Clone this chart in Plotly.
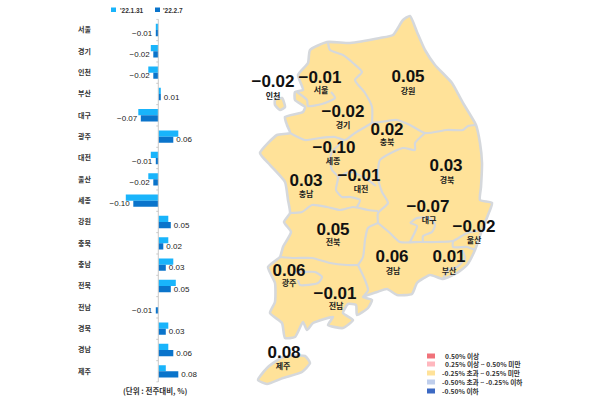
import plotly.graph_objects as go

regions = ["서울","경기","인천","부산","대구","광주","대전","울산","세종","강원","충북","충남","전북","전남","경북","경남","제주"]
jan31 = [-0.01,-0.03,-0.04,0.01,-0.08,0.08,-0.03,-0.04,-0.13,0.04,0.04,0.06,0.07,0.0,0.04,0.04,0.03]
feb7 = [-0.01,-0.02,-0.02,0.01,-0.07,0.06,-0.01,-0.02,-0.10,0.05,0.02,0.03,0.05,-0.01,0.03,0.06,0.08]
series_names = ["'22.1.31", "'22.2.7"]
series_colors = ["#19B4FB", "#0A74CB"]

map_regions = ["인천","서울","경기","강원","충북","세종","대전","충남","경북","대구","울산","전북","경남","부산","광주","전남","제주"]
map_values = [-0.02,-0.01,-0.02,0.05,0.02,-0.10,-0.01,0.03,0.03,-0.07,-0.02,0.05,0.06,0.01,0.06,-0.01,0.08]
value_x = [273,320,343,408,387,334,359,306,446,428,474,333,392,449,289,335,284]
value_y = [83,79,113,78,131,149,177,182,167,208,228,231,258,258,272,295,354]
name_x = [273,321,343,408,387,333,361,306,447,429,474,333,393,449,289,336,283]
name_y = [97,91,126,92,143,162,190,195,181,221,241,243,272,272,284,307,367]

mainland = [(410,16),(417,32),(425,50),(435,65),(452,83),(463,103),(476,125),(480,143),(482,163),(481,187),(480,200),(492,203),
 (488,215),(482,230),(475,250),(467,265),(457,273),(443,279),(430,275),(417,283),(412,294),(397,295),(387,289),(377,292),(363,297),
 (372,300),(368,308),(357,315),(356,305),(348,304),(343,313),(353,320),(343,328),(328,325),(333,317),(313,323),(307,330),(303,322),
 (295,337),(285,338),(282,323),(270,313),(275,302),(275,283),(268,267),(280,257),(283,247),(291,232),(284,222),(290,213),(288,200),
 (285,182),(270,165),(260,153),(277,135),(290,133),(287,125),(285,117),(303,112),(305,107),(295,100),(295,92),(303,90),(298,75),
 (308,63),(310,50),(327,42),(350,43),(380,38),(393,35),(403,20),(410,16)]
incheon_isle = [(275,100),(282,98),(285,107),(280,110),(275,105),(275,100)]
jeju = [(258,380),(268,367),(283,357),(305,356),(310,363),(302,372),(283,378),(267,384),(258,380)]
borders = [
 [(328,43),(330,50),(343,55),(353,63),(362,72),(355,80),(365,93),(372,107),(372,123)],
 [(290,133),(305,140),(320,138),(335,137),(345,140),(355,133),(372,123)],
 [(372,123),(387,121),(397,120),(410,125),(425,133),(447,130),(463,130),(468,126),(476,125)],
 [(425,133),(415,143),(415,150),(403,148),(380,160),(378,177),(382,192),(388,203),(378,213),(378,223)],
 [(297,92),(307,100),(308,106),(322,104),(335,98),(331,92)],
 [(343,141),(332,152),(330,160),(332,170),(338,177),(336,190),(342,197),(350,197),(360,200),(357,207)],
 [(338,177),(350,172),(365,178),(376,186)],
 [(290,213),(302,212),(312,205),(327,207),(340,210),(353,207),(368,210),(378,211)],
 [(280,257),(295,258),(312,258),(330,263),(347,265),(358,265)],
 [(358,265),(363,257),(365,240),(368,228),(378,223)],
 [(358,265),(365,280),(368,290),(363,297)],
 [(378,223),(390,233),(400,242),(420,242),(437,242),(453,241),(467,233),(483,230)],
 [(453,241),(453,247),(467,247),(475,250)],
 [(410,223),(417,218),(430,218),(435,225),(432,232),(423,236),(423,242)],
 [(410,223),(417,226),(415,232),(410,242)],
 [(462,250),(465,258),(457,267),(448,270),(443,279)],
 [(293,272),(303,272),(315,272),(322,277),(318,283),(300,285),(298,280)],
]

legend_swatches = ["#F0727A","#FFB7BE","#FFE299","#BFCEEC","#3C69C3"]
legend_labels = ["0.50% 이상","0.25% 이상 ~ 0.50% 미만","-0.25% 초과 ~ 0.25% 미만","-0.50% 초과 ~ -0.25% 이하","-0.50% 이하"]
legend_y = [356,364,373,382,391]
legend_text_x = [443,443,440,440,440]

W,H = 600,400
def fmt(v):
    return f"{v:.2f}".replace("-", "\u2212")

KFONT = "Noto Sans CJK KR"
fig = go.Figure()
LAND = "#FFE299"; EDGE = "#D5D8DC"

for poly in (mainland, incheon_isle, jeju):
    fig.add_trace(go.Scatter(x=[p[0] for p in poly], y=[p[1] for p in poly], mode="lines", fill="toself",
        fillcolor=LAND, line=dict(color=EDGE, width=2.6, shape="spline", smoothing=0.5),
        xaxis="x2", yaxis="y2", showlegend=False, hoverinfo="skip"))
for b in borders:
    fig.add_trace(go.Scatter(x=[p[0] for p in b], y=[p[1] for p in b], mode="lines",
        line=dict(color=EDGE, width=2.2, shape="spline", smoothing=0.6),
        xaxis="x2", yaxis="y2", showlegend=False, hoverinfo="skip"))

fig.add_trace(go.Scatter(x=value_x, y=value_y, mode="text", text=[fmt(v) for v in map_values],
    textfont=dict(family="Liberation Sans", size=17, color="#111111", weight="bold"), textposition="middle center",
    xaxis="x2", yaxis="y2", showlegend=False, hoverinfo="skip"))
fig.add_trace(go.Scatter(x=name_x, y=name_y, mode="text", text=map_regions,
    textfont=dict(family=KFONT, size=8, color="#222222", weight="bold"), textposition="middle center",
    xaxis="x2", yaxis="y2", showlegend=False, hoverinfo="skip"))

fig.add_trace(go.Bar(y=regions, x=jan31, name=series_names[0], orientation="h", marker=dict(color=series_colors[0], line_width=0)))
fig.add_trace(go.Bar(y=regions, x=feb7, name=series_names[1], orientation="h", marker=dict(color=series_colors[1], line_width=0),
    text=[fmt(v) for v in feb7], textposition="outside", cliponaxis=False, constraintext="none",
    textfont=dict(family="Liberation Sans", size=8, color="#222222")))

X0,X1 = 96,212
ZERO = 158.3; PX = 250
shapes = [dict(type="line", xref="x", yref="y", x0=0, x1=0, y0=-0.5, y1=16.5, line=dict(color="#C8C8C8", width=1), layer="above")]
for i in range(18):
    shapes.append(dict(type="line", xref="x", yref="y", x0=0, x1=-0.008, y0=i-0.5, y1=i-0.5, line=dict(color="#C8C8C8", width=1)))
annotations = []
for name,c,sx,tx in zip(series_names, series_colors, [111,155], [118,161]):
    shapes.append(dict(type="rect", xref="x2", yref="y2", x0=sx, x1=sx+5, y0=7.5, y1=12, fillcolor=c, line_width=0))
    annotations.append(dict(xref="x2", yref="y2", x=tx, y=10, text=name, showarrow=False, xanchor="left", yanchor="middle",
        font=dict(family="Liberation Sans", size=6.5, color="#333333", weight="bold")))
for c,t,y,tx in zip(legend_swatches, legend_labels, legend_y, legend_text_x):
    shapes.append(dict(type="rect", xref="x2", yref="y2", x0=427, x1=435, y0=y-2.5, y1=y+2.5, fillcolor=c, line_width=0))
    annotations.append(dict(xref="x2", yref="y2", x=tx, y=y, text=t, showarrow=False, xanchor="left", yanchor="middle",
        font=dict(family=KFONT, size=6.7, color="#333333", weight="bold")))
annotations.append(dict(xref="x2", yref="y2", x=155, y=390.5, text="(단위 : 전주대비, %)", showarrow=False,
    font=dict(family=KFONT, size=7.5, color="#333333", weight="bold")))

fig.update_layout(
    width=W, height=H, autosize=False, margin=dict(l=0,r=0,t=0,b=0), paper_bgcolor="white", plot_bgcolor="rgba(0,0,0,0)",
    barmode="group", bargap=0.42, bargroupgap=0, shapes=shapes, annotations=annotations,
    showlegend=False,
    xaxis=dict(domain=[X0/W,X1/W], range=[(X0-ZERO)/PX,(X1-ZERO)/PX], showgrid=False, zeroline=False, showticklabels=False, ticks="", fixedrange=True),
    yaxis=dict(domain=[1-382.5/H,1-18.8/H], type="category", categoryorder="array", categoryarray=regions, autorange="reversed",
        showgrid=False, zeroline=False, ticks="", ticklabelstandoff=4,
        tickfont=dict(family=KFONT, size=7, color="#333333", weight="bold"), fixedrange=True),
    xaxis2=dict(domain=[0,1], range=[0,W], visible=False, fixedrange=True, anchor="y2"),
    yaxis2=dict(domain=[0,1], range=[H,0], visible=False, fixedrange=True, anchor="x2"),
)
fig.write_html("out.html", config=dict(displayModeBar=False), post_script="document.body.style.margin='0';")
